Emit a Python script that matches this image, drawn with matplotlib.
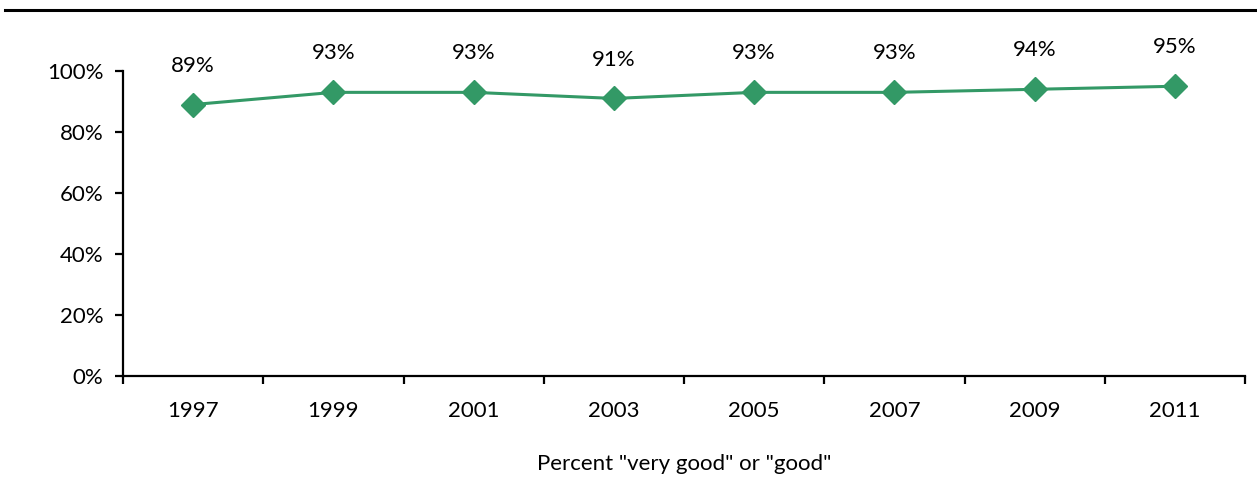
import matplotlib.pyplot as plt
from matplotlib.lines import Line2D

plt.rcParams['font.family'] = ['Lato', 'DejaVu Sans']

### Data
years = ['1997', '1999', '2001', '2003', '2005', '2007', '2009', '2011']
pct = [89, 93, 93, 91, 93, 93, 94, 95]
ytick_vals = [0, 20, 40, 60, 80, 100]

green = '#339966'
fs = 16

fig = plt.figure(figsize=(12.57, 4.84), dpi=100)
ax = fig.add_axes([0.0979, 0.2231, 0.8926, 0.6302])

x = list(range(len(years)))
ax.plot(x, pct, c=green, lw=2.2, marker='D', ms=12, mec=green, mfc=green)

for xi, v in zip(x, pct):
    ax.annotate('%d%%' % v, (xi, v), xytext=(0, 28), textcoords='offset points',
                ha='center', va='center', fontsize=fs)

ax.set_xlim(-0.5, len(years) - 0.5)
ax.set_ylim(0, 100)

# category axis: ticks between categories, labels centred
ax.set_xticks([i - 0.5 for i in range(len(years) + 1)])
ax.set_xticklabels([])
ax.set_xticks(x, minor=True)
ax.set_xticklabels(years, minor=True, fontsize=fs)
ax.tick_params(axis='x', which='minor', length=0, pad=18)
ax.tick_params(axis='x', which='major', length=6, width=1.6, direction='out')

ax.set_yticks(ytick_vals)
ax.set_yticklabels(['%d%%' % v for v in ytick_vals], fontsize=fs)
ax.tick_params(axis='y', length=6, width=1.6, direction='out', pad=8)

for s in ['top', 'right']:
    ax.spines[s].set_visible(False)
for s in ['left', 'bottom']:
    ax.spines[s].set_linewidth(1.6)

ax.set_xlabel('Percent "very good" or "good"', fontsize=fs, labelpad=24)

# rule under the (cropped) title
fig.add_artist(Line2D([0.004, 1.0], [0.979, 0.979], color='k', lw=2.2))

fig.savefig('out.png', dpi=100)
